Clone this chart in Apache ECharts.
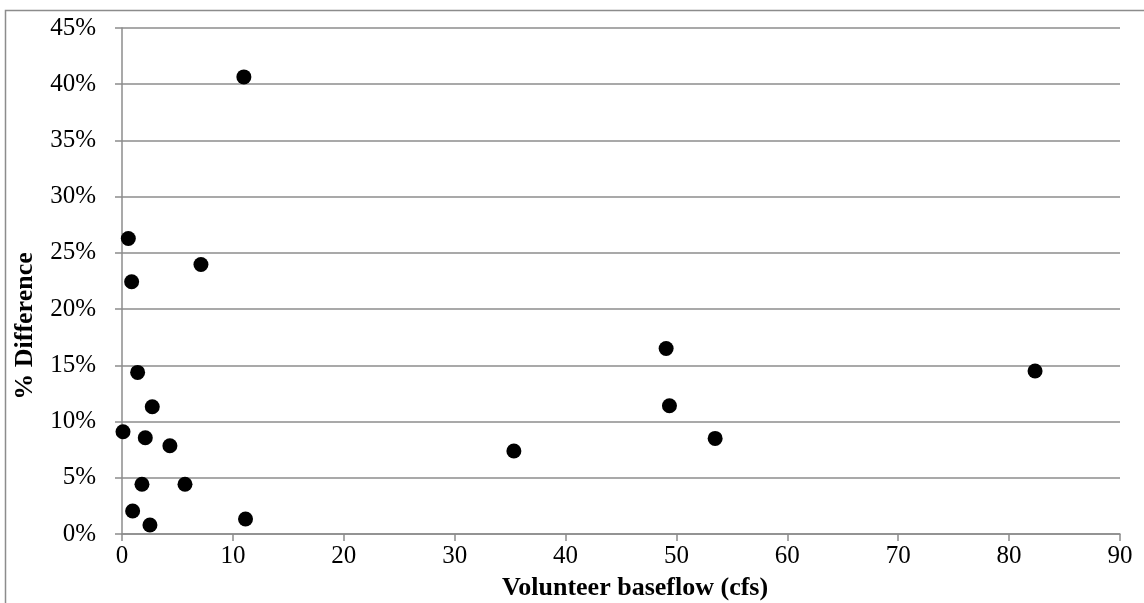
<!DOCTYPE html>
<html>
<head>
<meta charset="utf-8">
<script src="https://cdn.jsdelivr.net/npm/echarts@6/dist/echarts.min.js"></script>
<style>html,body{margin:0;padding:0;background:#fff}#c{width:1144px;height:603px}</style>
</head>
<body>
<div id="c"></div>
<script>
const baseflow = [10.99, 0.57, 7.12, 0.87, 1.41, 2.73, 0.09, 2.10, 4.32, 1.80, 5.68, 0.96, 2.52, 11.14, 49.07, 49.37, 35.34, 82.34, 53.49];
const pctDiff  = [40.65, 26.28, 23.97, 22.43, 14.37, 11.32, 9.09, 8.56, 7.85, 4.42, 4.42, 2.04, 0.80, 1.33, 16.5, 11.4, 7.38, 14.49, 8.5];
const xTicks = [0, 10, 20, 30, 40, 50, 60, 70, 80, 90];
const yTicks = [0, 5, 10, 15, 20, 25, 30, 35, 40, 45];
const xTitle = 'Volunteer baseflow (cfs)';
const yTitle = '% Difference';

const points = baseflow.map((x, i) => [x, pctDiff[i]]);
const chart = echarts.init(document.getElementById('c'), null, {renderer: 'canvas'});
const font = '"Liberation Serif", "Times New Roman", serif';
const gray = '#8c8c8c';
chart.setOption({
  animation: false,
  backgroundColor: '#fff',
  grid: {left: 122, right: 24, top: 28, bottom: 69, containLabel: false},
  xAxis: {
    type: 'value', min: xTicks[0], max: xTicks[xTicks.length - 1], interval: 10,
    axisLine: {show: true, lineStyle: {color: gray, width: 1.5}},
    axisTick: {show: true, length: 7, lineStyle: {color: gray, width: 1.5}},
    axisLabel: {color: '#000', fontFamily: font, fontSize: 25, margin: 10},
    splitLine: {show: false}
  },
  yAxis: {
    type: 'value', min: yTicks[0], max: yTicks[yTicks.length - 1], interval: 5,
    axisLine: {show: true, lineStyle: {color: gray, width: 1.5}},
    axisTick: {show: true, length: 7, lineStyle: {color: gray, width: 1.5}},
    axisLabel: {color: '#000', fontFamily: font, fontSize: 25, margin: 26, formatter: v => v + '%'},
    splitLine: {show: true, lineStyle: {color: gray, width: 1.5}}
  },
  series: [{
    type: 'scatter', data: points, symbol: 'circle', symbolSize: 15,
    itemStyle: {color: '#000', opacity: 1}
  }],
  graphic: [
    {type: 'rect', left: 3, top: 8, shape: {width: 1200, height: 700}, style: {fill: 'none', stroke: gray, lineWidth: 1.5}, silent: true},
    {type: 'text', x: 635, y: 588, style: {text: xTitle, font: 'bold 26px ' + font, fill: '#000', textAlign: 'center', textVerticalAlign: 'middle'}},
    {type: 'text', x: 25, y: 326, rotation: Math.PI / 2, style: {text: yTitle, font: 'bold 26px ' + font, fill: '#000', textAlign: 'center', textVerticalAlign: 'middle'}}
  ]
});
</script>
</body>
</html>
